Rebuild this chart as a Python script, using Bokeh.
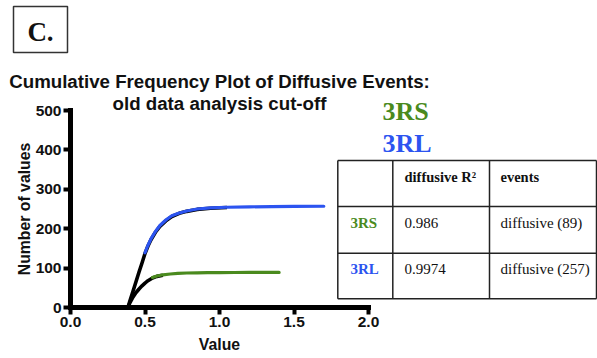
from bokeh.plotting import figure
from bokeh.models import Range1d, FixedTicker, NumeralTickFormatter, Label
from bokeh.core.properties import value
from bokeh.embed import file_html
from bokeh.resources import INLINE

# ---------------- data ----------------
x_ticks = [0.0, 0.5, 1.0, 1.5, 2.0]
y_ticks = [0, 100, 200, 300, 400, 500]

# 3RL (blue) : fitted curve (black) and data curve (blue)
rl_fit_x = [0.385, 0.40, 0.42, 0.44, 0.46, 0.48, 0.50, 0.52, 0.54, 0.57, 0.60, 0.64, 0.68, 0.73, 0.78, 0.85, 0.94, 1.05]
rl_fit_y = [0, 18, 42, 66, 90, 113, 137, 156, 172, 191, 206, 220, 231, 239, 244, 249, 252, 254]
rl_x = [0.50, 0.52, 0.54, 0.57, 0.60, 0.64, 0.68, 0.73, 0.78, 0.85, 0.94, 1.05, 1.20, 1.35, 1.50, 1.70]
rl_y = [139, 158, 174, 193, 208, 222, 233, 240, 245, 250, 253, 254.5, 255.5, 256, 256.5, 257]

# 3RS (green) : fitted curve (black) and data curve (green)
rs_fit_x = [0.385, 0.40, 0.42, 0.44, 0.46, 0.48, 0.50, 0.52, 0.55, 0.58, 0.62]
rs_fit_y = [0, 13, 27, 38, 47, 55, 62, 68, 75, 79, 82]
rs_x = [0.55, 0.58, 0.62, 0.67, 0.72, 0.78, 0.85, 0.92, 1.00, 1.10, 1.20, 1.30, 1.40]
rs_y = [76, 80, 83, 85, 86.5, 87.5, 88, 88.5, 88.7, 88.8, 89, 89, 89]

series_names = ["3RS", "3RL"]
r_squared = ["0.986", "0.9974"]
event_counts = [89, 257]
header_cells = ["diffusive R\u00b2", "events"]

title_lines = ["Cumulative Frequency Plot of Diffusive Events:", "old data analysis cut-off"]
panel_letter = "C."

# ---------------- layout ----------------
GREEN = "#4a8a1e"
BLUE = "#2c54f0"
W, H = 597, 358
X0_PX, Y0_PX = 70, 307     # pixel position of data origin
PX_X = 149.0               # pixels per x unit
PX_Y = 0.394               # pixels per y unit


def dx(ix):
    """canvas pixel x -> data x"""
    return (ix - X0_PX) / PX_X


def dy(iy):
    """canvas pixel y (from top) -> data y"""
    return (Y0_PX - iy) / PX_Y


p = figure(width=W, height=H,
           x_range=Range1d(dx(0), dx(W)), y_range=Range1d(dy(H), dy(0)),
           output_backend="svg", toolbar_location=None, title=None,
           min_border_left=0, min_border_bottom=0, min_border_top=0, min_border_right=0)
p.outline_line_color = None
p.xgrid.visible = False
p.ygrid.visible = False
p.background_fill_color = "white"
p.border_fill_color = "white"

for ax in (p.xaxis[0], p.yaxis[0]):
    ax.fixed_location = 0
    ax.axis_line_width = 5
    ax.axis_line_cap = "square"
    ax.major_tick_line_width = 4
    ax.major_tick_out = 7
    ax.major_tick_in = 0
    ax.minor_tick_line_color = None
    ax.major_label_text_font = "Liberation Sans"
    ax.major_label_text_font_style = "bold"
    ax.major_label_text_font_size = "15.5px"
    ax.major_label_text_color = "#111111"
    ax.major_label_standoff = 2
    ax.axis_label_text_font = "Liberation Sans"
    ax.axis_label_text_font_style = "bold"
    ax.axis_label_text_font_size = "15.8px"
    ax.axis_label_text_color = "#111111"

p.xaxis.bounds = (0, 2)
p.xaxis.ticker = FixedTicker(ticks=x_ticks)
p.xaxis.formatter = NumeralTickFormatter(format="0.0")
p.xaxis.axis_label = "Value"
p.xaxis.axis_label_standoff = 6

p.yaxis.bounds = (0, 500)
p.yaxis.ticker = FixedTicker(ticks=y_ticks)
p.yaxis.axis_label = "Number of values"
p.yaxis.axis_label_standoff = 0

# curves
p.line(rl_fit_x, rl_fit_y, line_color="black", line_width=3.6, line_join="round")
p.line(rs_fit_x, rs_fit_y, line_color="black", line_width=3.6, line_join="round")
p.line(rl_x, rl_y, line_color=BLUE, line_width=3.2, line_join="round", line_cap="round")
p.line(rs_x, rs_y, line_color=GREEN, line_width=3.2, line_join="round", line_cap="round")

# panel letter box
p.quad(left=dx(13), right=dx(67), top=dy(6), bottom=dy(52), fill_color=None,
       line_color="#333333", line_width=1.5)
p.add_layout(Label(x=dx(40), y=dy(31.5), text=panel_letter, text_align="center", text_baseline="middle",
                   text_font="Liberation Serif", text_font_style="bold", text_font_size="27px",
                   text_color="#111111"))

# title
for ln, cy in zip(title_lines, [81, 102.5]):
    p.add_layout(Label(x=dx(219), y=dy(cy), text=ln, text_align="center", text_baseline="middle",
                       text_font="Liberation Sans", text_font_style="bold", text_font_size="18.7px",
                       text_color="#111111"))

# series names
for name, col, cy in zip(series_names, [GREEN, BLUE], [111, 142.5]):
    p.add_layout(Label(x=dx(382), y=dy(cy), text=name, text_align="left", text_baseline="middle",
                       text_font="Liberation Serif", text_font_style="bold", text_font_size="26px",
                       text_color=col))

# table grid
t_left, t_c1, t_c2, t_right = 337.3, 392.3, 489, 596
t_rows = [160, 206, 252.7, 298.3]
for ry in t_rows:
    p.segment(x0=dx(t_left), y0=dy(ry), x1=dx(t_right), y1=dy(ry), line_color="#222222", line_width=1.5)
for cx in [t_left, t_c1, t_c2, t_right]:
    p.segment(x0=dx(cx), y0=dy(t_rows[0]), x1=dx(cx), y1=dy(t_rows[-1]), line_color="#222222", line_width=1.5)

# header
for txt, cx in zip(header_cells, [404, 500]):
    p.text(x=[dx(cx)], y=[dy(176.2)], text=[txt], text_font=value("Liberation Serif"),
           text_font_style="bold", text_font_size="14.5px", text_color="#111111",
           text_align="left", text_baseline="middle")

# body rows
for i, (name, col, r2, ev) in enumerate(zip(series_names, [GREEN, BLUE], r_squared, event_counts)):
    cy = [222.7, 268.3][i]
    p.text(x=[dx(350)], y=[dy(cy)], text=[name], text_font=value("Liberation Serif"),
           text_font_style="bold", text_font_size="15px", text_color=col,
           text_align="left", text_baseline="middle")
    p.text(x=[dx(404)], y=[dy(cy)], text=[r2], text_font=value("Liberation Serif"),
           text_font_size="15px", text_color="#111111",
           text_align="left", text_baseline="middle")
    p.text(x=[dx(500)], y=[dy(cy)], text=["diffusive (%d)" % ev], text_font=value("Liberation Serif"),
           text_font_size="15px", text_color="#111111",
           text_align="left", text_baseline="middle")

open("out.html", "w").write(file_html(p, INLINE))
